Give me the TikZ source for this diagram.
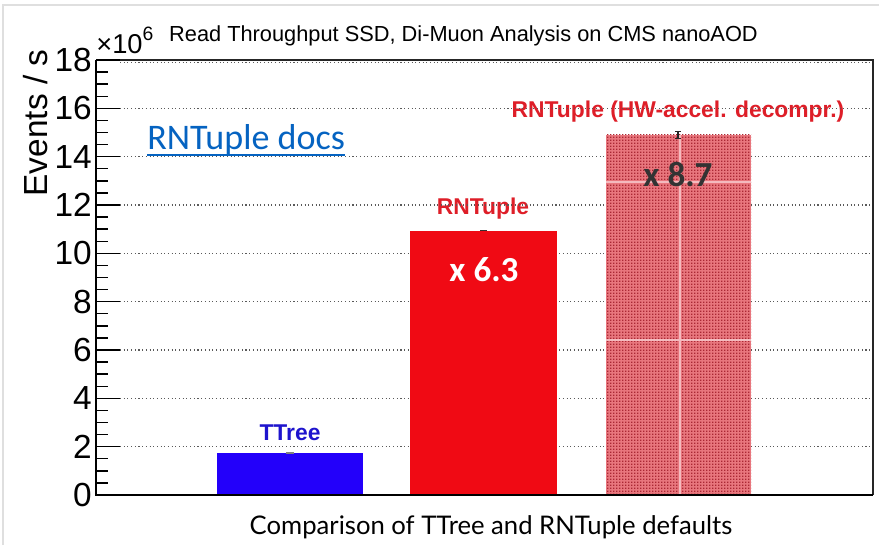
\documentclass[tikz,border=0pt]{standalone}
\usepackage{fontspec}
\setmainfont{Liberation Sans}
\newfontfamily\docsfont{Carlito}
\newfontfamily\xlabelfont{Lato}
\usetikzlibrary{patterns.meta}

\definecolor{ttreeblue}{RGB}{35,0,250}
\definecolor{ttreetext}{RGB}{30,20,205}
\definecolor{ntred}{RGB}{240,10,20}
\definecolor{ntlabel}{RGB}{222,30,40}
\definecolor{hwpink}{RGB}{232,118,125}
\definecolor{hwdot}{RGB}{170,40,52}
\definecolor{linkblue}{RGB}{5,99,193}
\definecolor{gridgray}{RGB}{90,90,90}

\pgfdeclarepattern{
    name=hwgrid,
    type=uncolored,
    bottom left={\pgfpointorigin},
    top right={\pgfpoint{1.8pt}{1.8pt}},
    tile size={\pgfpoint{1.8pt}{1.8pt}},
    code={
        \pgfpathrectangle{\pgfpointorigin}{\pgfpoint{1pt}{1pt}}
        \pgfusepath{fill}
    }
}

\begin{document}
\begin{tikzpicture}[
    barlabel/.style={inner sep=0pt, font=\bfseries\fontsize{13}{15}\selectfont},
    factor/.style={inner sep=0pt, font=\docsfont\bfseries\fontsize{20}{24}\selectfont},
    gridline/.style={gridgray, line width=0.6pt, dash pattern=on 0.6pt off 1.5pt},
    ticklabel/.style={anchor=east, inner sep=0pt, font=\fontsize{19}{21}\selectfont}]
    \useasboundingbox (0,0) rectangle (17.58,10.9);
    \draw[gray!25, line width=0.6pt] (0.06,0) -- (0.06,10.8) -- (17.58,10.8);
    \node (title) at (9.27,10.18) {\fontsize{12.4}{14}\selectfont Read Throughput SSD, Di-Muon Analysis on CMS nanoAOD};
    \node (expo) [anchor=base west, inner sep=0pt] at (1.92,9.82) {\fontsize{15.5}{18}\selectfont ×10\raisebox{0.5em}{\fontsize{11}{13}\selectfont 6}};
    \node (ylabel) [rotate=90] at (0.72,8.44) {\fontsize{19}{21}\selectfont Events / s};
    \node (xlabel) at (9.82,0.36) {\xlabelfont\fontsize{14.6}{16}\selectfont Comparison of TTree and RNTuple defaults};
    \begin{scope}[shift={(1.92,1.0)}, y=0.48333cm]
        % labels over the bars
        \node (ttreelab) [barlabel, ttreetext] at (3.88,2.57) {TTree};
        \node (ntlab) [barlabel, ntlabel] at (7.74,11.84) {RNTuple};
        \node (hwlab) [barlabel, ntlabel] at (11.64,15.86) {RNTuple (HW-accel. decompr.)};
        \node (docs) [anchor=base west, inner sep=0pt, linkblue] at (1.02,14.29) {\docsfont\fontsize{20.5}{24}\selectfont RNTuple docs};
        \draw[linkblue, line width=1.1pt] ([yshift=-3pt]docs.base west) -- ([yshift=-3pt]docs.base east);
        % grid
        \foreach \v in {2,4,...,16}
            \draw[gridline] (0.48,\v) -- (15.54,\v);
        \draw[gridline] (0.48,17.88) -- (15.54,17.88);
        % bars
        \fill[ttreeblue] (2.42,0) rectangle (5.34,1.74);
        \fill[ntred] (6.28,0) rectangle (9.22,10.92);
        \fill[hwpink] (10.20,0) rectangle (13.10,14.9);
        \fill[pattern=hwgrid, pattern color=hwdot] (10.20,0) rectangle (13.10,14.9);
        \draw[white!50!hwpink, line width=0.8pt] (10.2,6.42) -- (13.1,6.42) (10.2,12.96) -- (13.1,12.96) (11.68,0) -- (11.68,14.9);
        % error bars
        \draw[gray, line width=1pt] (3.8,1.74) -- (3.96,1.74);
        \draw[gray!40!black, line width=1pt] (7.68,10.94) -- (7.82,10.94);
        \draw[gray!30!black, line width=0.8pt] (11.64,14.76) -- (11.64,15.05) (11.58,14.76) -- (11.70,14.76) (11.58,15.05) -- (11.70,15.05);
        \node (f63) [factor, white] at (7.76,9.32) {x 6.3};
        \node (f87) [factor, black!80] at (11.64,13.25) {x 8.7};
        % axes and ticks
        \draw[black!85, line width=0.9pt] (0,18) -- (15.54,18) -- (15.54,0);
        \draw[line width=1.1pt] (0,18) -- (0,0) -- (15.54,0);
        \foreach \v in {0,0.5,...,18}
            \draw[line width=0.8pt] (0,\v) -- (0.24,\v);
        \foreach \v in {0,2,...,18} {
            \draw[line width=0.8pt] (0,\v) -- (0.48,\v);
            \node (tick\v) [ticklabel] at (-0.08,\v) {\v};
        }
    \end{scope}
\end{tikzpicture}
\end{document}
